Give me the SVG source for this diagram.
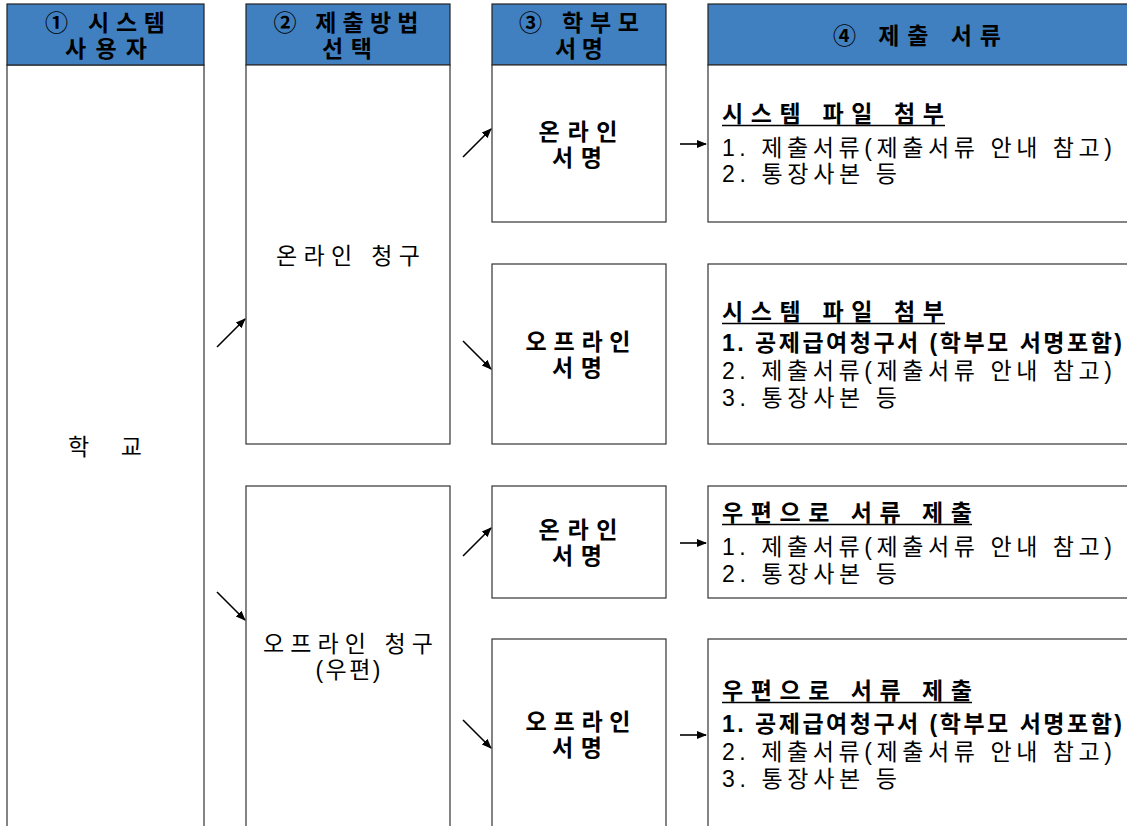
<svg xmlns="http://www.w3.org/2000/svg" width="1127" height="826" viewBox="0 0 1127 826">
<defs>
<style>
text{font-family:"Liberation Sans","Noto Sans CJK KR",sans-serif;fill:#000;}
.hdr{fill:#4080C1;stroke:#222;stroke-width:1.2;}
.box{fill:#fff;stroke:#333;stroke-width:1.2;}
.ht{font-size:23px;font-weight:bold;text-anchor:middle;}
.bt{font-size:23px;font-weight:bold;text-anchor:middle;}
.nt{font-size:23px;text-anchor:middle;}
.dt{font-size:23px;}
.db{font-size:23px;font-weight:bold;}
.ul{stroke:#000;stroke-width:1.5;}
.conn line{stroke:#000;stroke-width:1.6;marker-end:url(#ah);}
</style>
<marker id="ah" markerUnits="userSpaceOnUse" markerWidth="10" markerHeight="10" viewBox="0 0 10 10" refX="9" refY="5" orient="auto">
<path d="M0,1 L10,5 L0,9 Z" fill="#000"/>
</marker>
</defs>
<rect width="1127" height="826" fill="#fff"/>

<g id="col1">
<rect class="box" x="7" y="65" width="197" height="780"/>
<rect class="hdr" x="7" y="4" width="197" height="61"/>
<text class="ht" x="105" y="31" textLength="120" lengthAdjust="spacing">① 시스템</text>
<text class="ht" x="106" y="57" textLength="82" lengthAdjust="spacing">사용자</text>
<text class="nt" x="105" y="455" textLength="74" lengthAdjust="spacing">학   교</text>
</g>

<g id="col2-header">
<rect class="hdr" x="246" y="4" width="204" height="61"/>
<text class="ht" x="346" y="31" textLength="145" lengthAdjust="spacing">② 제출방법</text>
<text class="ht" x="347" y="57" textLength="50" lengthAdjust="spacing">선택</text>
</g>
<g id="online-claim">
<rect class="box" x="246" y="65" width="204" height="379"/>
<text class="nt" x="348" y="264" textLength="144" lengthAdjust="spacing">온라인 청구</text>
</g>
<g id="offline-claim">
<rect class="box" x="246" y="486" width="204" height="360"/>
<text class="nt" x="348" y="652" textLength="170" lengthAdjust="spacing">오프라인 청구</text>
<text class="nt" x="348" y="678" textLength="65" lengthAdjust="spacing">(우편)</text>
</g>

<g id="col3-header">
<rect class="hdr" x="492" y="4" width="174" height="61"/>
<text class="ht" x="579" y="31" textLength="120" lengthAdjust="spacing">③ 학부모</text>
<text class="ht" x="579" y="57" textLength="48" lengthAdjust="spacing">서명</text>
</g>
<g id="sign-online-1">
<rect class="box" x="492" y="65" width="174" height="157"/>
<text class="bt" x="578" y="140" textLength="79" lengthAdjust="spacing">온라인</text>
<text class="bt" x="577" y="166" textLength="50" lengthAdjust="spacing">서명</text>
</g>
<g id="sign-offline-1">
<rect class="box" x="492" y="264" width="174" height="180"/>
<text class="bt" x="578" y="350" textLength="105" lengthAdjust="spacing">오프라인</text>
<text class="bt" x="577" y="376" textLength="50" lengthAdjust="spacing">서명</text>
</g>
<g id="sign-online-2">
<rect class="box" x="492" y="486" width="174" height="112"/>
<text class="bt" x="578" y="538" textLength="79" lengthAdjust="spacing">온라인</text>
<text class="bt" x="577" y="564" textLength="50" lengthAdjust="spacing">서명</text>
</g>
<g id="sign-offline-2">
<rect class="box" x="492" y="639" width="174" height="207"/>
<text class="bt" x="578" y="730" textLength="105" lengthAdjust="spacing">오프라인</text>
<text class="bt" x="577" y="756" textLength="50" lengthAdjust="spacing">서명</text>
</g>

<g id="col4-header">
<rect class="hdr" x="708" y="4" width="430" height="61"/>
<text class="ht" x="917" y="44" textLength="168" lengthAdjust="spacing">④ 제출 서류</text>
</g>
<g id="docs-1">
<rect class="box" x="708" y="65" width="430" height="157"/>
<text class="db" x="722" y="122" textLength="222" lengthAdjust="spacing">시스템 파일 첨부</text>
<line class="ul" x1="722" y1="125.5" x2="945" y2="125.5"/>
<text class="dt" x="722" y="156" textLength="390" lengthAdjust="spacing">1. 제출서류(제출서류 안내 참고)</text>
<text class="dt" x="722" y="182" textLength="175" lengthAdjust="spacing">2. 통장사본 등</text>
</g>
<g id="docs-2">
<rect class="box" x="708" y="264" width="430" height="180"/>
<text class="db" x="722" y="320" textLength="222" lengthAdjust="spacing">시스템 파일 첨부</text>
<line class="ul" x1="722" y1="323.5" x2="945" y2="323.5"/>
<text class="db" x="722" y="351" textLength="400" lengthAdjust="spacing">1. 공제급여청구서 (학부모 서명포함)</text>
<text class="dt" x="722" y="379" textLength="390" lengthAdjust="spacing">2. 제출서류(제출서류 안내 참고)</text>
<text class="dt" x="722" y="406" textLength="175" lengthAdjust="spacing">3. 통장사본 등</text>
</g>
<g id="docs-3">
<rect class="box" x="708" y="486" width="430" height="112"/>
<text class="db" x="722" y="521" textLength="250" lengthAdjust="spacing">우편으로 서류 제출</text>
<line class="ul" x1="722" y1="524.5" x2="972" y2="524.5"/>
<text class="dt" x="722" y="555" textLength="390" lengthAdjust="spacing">1. 제출서류(제출서류 안내 참고)</text>
<text class="dt" x="722" y="582" textLength="175" lengthAdjust="spacing">2. 통장사본 등</text>
</g>
<g id="docs-4">
<rect class="box" x="708" y="639" width="430" height="207"/>
<text class="db" x="722" y="699" textLength="250" lengthAdjust="spacing">우편으로 서류 제출</text>
<line class="ul" x1="722" y1="702.5" x2="972" y2="702.5"/>
<text class="db" x="722" y="732" textLength="400" lengthAdjust="spacing">1. 공제급여청구서 (학부모 서명포함)</text>
<text class="dt" x="722" y="760" textLength="390" lengthAdjust="spacing">2. 제출서류(제출서류 안내 참고)</text>
<text class="dt" x="722" y="787" textLength="175" lengthAdjust="spacing">3. 통장사본 등</text>
</g>

<g id="connectors" class="conn">
<line x1="217" y1="347" x2="245" y2="319"/>
<line x1="217" y1="592" x2="245" y2="620"/>
<line x1="463" y1="157" x2="491" y2="129"/>
<line x1="463" y1="341" x2="491" y2="369"/>
<line x1="463" y1="556" x2="491" y2="528"/>
<line x1="463" y1="720" x2="491" y2="748"/>
<line x1="680" y1="144" x2="706" y2="144"/>
<line x1="680" y1="543" x2="706" y2="543"/>
<line x1="680" y1="735" x2="706" y2="735"/>
</g>
</svg>
